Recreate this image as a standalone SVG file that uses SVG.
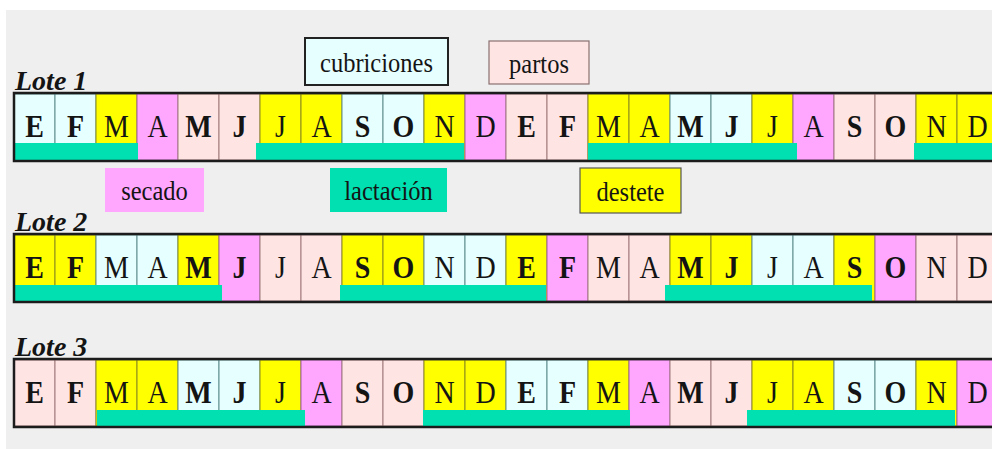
<svg xmlns="http://www.w3.org/2000/svg" width="992" height="449" viewBox="0 0 992 449">
  <style>
    .bg { fill: #efefef; }
    .c { fill: #e6ffff; stroke: #5e8c8c; stroke-width: 1; }
    .y { fill: #ffff00; stroke: #8c8c1e; stroke-width: 1; }
    .m { fill: #ffa6ff; stroke: #a060a0; stroke-width: 1; }
    .p { fill: #ffe4e4; stroke: #a07a7a; stroke-width: 1; }
    .g { fill: #00e0b0; }
    .frame { fill: none; stroke: #1c1c1c; stroke-width: 2.5; }
    text { font-family: "Liberation Serif", "Times New Roman", serif; fill: #141414; text-anchor: middle; }
    .cell text { font-size: 28px; }
    .b { font-weight: bold; }
    .lote { font-size: 27px; font-weight: bold; font-style: italic; text-anchor: start; }
    .leg { font-size: 24.5px; }
  </style>

  <rect x="0" y="0" width="992" height="449" fill="#ffffff"/>
  <rect class="bg" x="6" y="10" width="986" height="439"/>

  <!-- Legend -->
  <g id="leg-cubriciones">
    <rect x="305" y="38" width="143" height="47" fill="#e6ffff" stroke="#222" stroke-width="2"/>
    <text class="leg" transform="translate(376.5 72) scale(1 1.15)">cubriciones</text>
  </g>
  <g id="leg-partos">
    <rect x="489" y="41" width="100" height="43" fill="#ffe4e4" stroke="#8a7070" stroke-width="1.2"/>
    <text class="leg" transform="translate(539 73) scale(1 1.15)">partos</text>
  </g>
  <g id="leg-secado">
    <rect x="105" y="168" width="99" height="44" fill="#ffa6ff"/>
    <text class="leg" transform="translate(154.5 200) scale(1 1.15)">secado</text>
  </g>
  <g id="leg-lactacion">
    <rect x="330" y="168" width="117" height="44" fill="#00e0b0"/>
    <text class="leg" transform="translate(388.5 200) scale(1 1.15)">lactación</text>
  </g>
  <g id="leg-destete">
    <rect x="580" y="168" width="101" height="45" fill="#ffff00" stroke="#555" stroke-width="1.2"/>
    <text class="leg" transform="translate(630.5 201) scale(1 1.15)">destete</text>
  </g>

  <!-- Lote 1 -->
  <g id="lote1" class="cell">
    <text class="lote" x="15" y="90">Lote 1</text>
    <rect class="c" x="14" y="94" width="41" height="66"/>
    <rect class="c" x="55" y="94" width="41" height="66"/>
    <rect class="y" x="96" y="94" width="41" height="66"/>
    <rect class="m" x="137" y="94" width="41" height="66"/>
    <rect class="p" x="178" y="94" width="41" height="66"/>
    <rect class="p" x="219" y="94" width="41" height="66"/>
    <rect class="y" x="260" y="94" width="41" height="66"/>
    <rect class="y" x="301" y="94" width="41" height="66"/>
    <rect class="c" x="342" y="94" width="41" height="66"/>
    <rect class="c" x="383" y="94" width="41" height="66"/>
    <rect class="y" x="424" y="94" width="41" height="66"/>
    <rect class="m" x="465" y="94" width="41" height="66"/>
    <rect class="p" x="506" y="94" width="41" height="66"/>
    <rect class="p" x="547" y="94" width="41" height="66"/>
    <rect class="y" x="588" y="94" width="41" height="66"/>
    <rect class="y" x="629" y="94" width="41" height="66"/>
    <rect class="c" x="670" y="94" width="41" height="66"/>
    <rect class="c" x="711" y="94" width="41" height="66"/>
    <rect class="y" x="752" y="94" width="41" height="66"/>
    <rect class="m" x="793" y="94" width="41" height="66"/>
    <rect class="p" x="834" y="94" width="41" height="66"/>
    <rect class="p" x="875" y="94" width="41" height="66"/>
    <rect class="y" x="916" y="94" width="41" height="66"/>
    <rect class="y" x="957" y="94" width="41" height="66"/>
    <rect class="g" x="14" y="143" width="124" height="17"/>
    <rect class="g" x="256" y="143" width="208" height="17"/>
    <rect class="g" x="588" y="143" width="209" height="17"/>
    <rect class="g" x="914" y="143" width="86" height="17"/>
    <rect class="frame" x="14" y="93" width="990" height="68"/>
    <text class="b" transform="translate(34.5 137) scale(1 1.16)">E</text>
    <text class="b" transform="translate(75.5 137) scale(1 1.16)">F</text>
    <text transform="translate(116.5 137) scale(1 1.16)">M</text>
    <text transform="translate(157.5 137) scale(1 1.16)">A</text>
    <text class="b" transform="translate(198.5 137) scale(1 1.16)">M</text>
    <text class="b" transform="translate(239.5 137) scale(1 1.16)">J</text>
    <text transform="translate(280.5 137) scale(1 1.16)">J</text>
    <text transform="translate(321.5 137) scale(1 1.16)">A</text>
    <text class="b" transform="translate(362.5 137) scale(1 1.16)">S</text>
    <text class="b" transform="translate(403.5 137) scale(1 1.16)">O</text>
    <text transform="translate(444.5 137) scale(1 1.16)">N</text>
    <text transform="translate(485.5 137) scale(1 1.16)">D</text>
    <text class="b" transform="translate(526.5 137) scale(1 1.16)">E</text>
    <text class="b" transform="translate(567.5 137) scale(1 1.16)">F</text>
    <text transform="translate(608.5 137) scale(1 1.16)">M</text>
    <text transform="translate(649.5 137) scale(1 1.16)">A</text>
    <text class="b" transform="translate(690.5 137) scale(1 1.16)">M</text>
    <text class="b" transform="translate(731.5 137) scale(1 1.16)">J</text>
    <text transform="translate(772.5 137) scale(1 1.16)">J</text>
    <text transform="translate(813.5 137) scale(1 1.16)">A</text>
    <text class="b" transform="translate(854.5 137) scale(1 1.16)">S</text>
    <text class="b" transform="translate(895.5 137) scale(1 1.16)">O</text>
    <text transform="translate(936.5 137) scale(1 1.16)">N</text>
    <text transform="translate(977.5 137) scale(1 1.16)">D</text>
  </g>

  <!-- Lote 2 -->
  <g id="lote2" class="cell">
    <text class="lote" x="15" y="231">Lote 2</text>
    <rect class="y" x="14" y="235" width="41" height="66"/>
    <rect class="y" x="55" y="235" width="41" height="66"/>
    <rect class="c" x="96" y="235" width="41" height="66"/>
    <rect class="c" x="137" y="235" width="41" height="66"/>
    <rect class="y" x="178" y="235" width="41" height="66"/>
    <rect class="m" x="219" y="235" width="41" height="66"/>
    <rect class="p" x="260" y="235" width="41" height="66"/>
    <rect class="p" x="301" y="235" width="41" height="66"/>
    <rect class="y" x="342" y="235" width="41" height="66"/>
    <rect class="y" x="383" y="235" width="41" height="66"/>
    <rect class="c" x="424" y="235" width="41" height="66"/>
    <rect class="c" x="465" y="235" width="41" height="66"/>
    <rect class="y" x="506" y="235" width="41" height="66"/>
    <rect class="m" x="547" y="235" width="41" height="66"/>
    <rect class="p" x="588" y="235" width="41" height="66"/>
    <rect class="p" x="629" y="235" width="41" height="66"/>
    <rect class="y" x="670" y="235" width="41" height="66"/>
    <rect class="y" x="711" y="235" width="41" height="66"/>
    <rect class="c" x="752" y="235" width="41" height="66"/>
    <rect class="c" x="793" y="235" width="41" height="66"/>
    <rect class="y" x="834" y="235" width="41" height="66"/>
    <rect class="m" x="875" y="235" width="41" height="66"/>
    <rect class="p" x="916" y="235" width="41" height="66"/>
    <rect class="p" x="957" y="235" width="41" height="66"/>
    <rect class="g" x="14" y="285" width="208" height="16"/>
    <rect class="g" x="340" y="285" width="206" height="16"/>
    <rect class="g" x="665" y="285" width="207" height="16"/>
    <rect class="frame" x="14" y="234" width="990" height="68"/>
    <text class="b" transform="translate(34.5 278) scale(1 1.16)">E</text>
    <text class="b" transform="translate(75.5 278) scale(1 1.16)">F</text>
    <text transform="translate(116.5 278) scale(1 1.16)">M</text>
    <text transform="translate(157.5 278) scale(1 1.16)">A</text>
    <text class="b" transform="translate(198.5 278) scale(1 1.16)">M</text>
    <text class="b" transform="translate(239.5 278) scale(1 1.16)">J</text>
    <text transform="translate(280.5 278) scale(1 1.16)">J</text>
    <text transform="translate(321.5 278) scale(1 1.16)">A</text>
    <text class="b" transform="translate(362.5 278) scale(1 1.16)">S</text>
    <text class="b" transform="translate(403.5 278) scale(1 1.16)">O</text>
    <text transform="translate(444.5 278) scale(1 1.16)">N</text>
    <text transform="translate(485.5 278) scale(1 1.16)">D</text>
    <text class="b" transform="translate(526.5 278) scale(1 1.16)">E</text>
    <text class="b" transform="translate(567.5 278) scale(1 1.16)">F</text>
    <text transform="translate(608.5 278) scale(1 1.16)">M</text>
    <text transform="translate(649.5 278) scale(1 1.16)">A</text>
    <text class="b" transform="translate(690.5 278) scale(1 1.16)">M</text>
    <text class="b" transform="translate(731.5 278) scale(1 1.16)">J</text>
    <text transform="translate(772.5 278) scale(1 1.16)">J</text>
    <text transform="translate(813.5 278) scale(1 1.16)">A</text>
    <text class="b" transform="translate(854.5 278) scale(1 1.16)">S</text>
    <text class="b" transform="translate(895.5 278) scale(1 1.16)">O</text>
    <text transform="translate(936.5 278) scale(1 1.16)">N</text>
    <text transform="translate(977.5 278) scale(1 1.16)">D</text>
  </g>

  <!-- Lote 3 -->
  <g id="lote3" class="cell">
    <text class="lote" x="15" y="356">Lote 3</text>
    <rect class="p" x="14" y="360" width="41" height="66"/>
    <rect class="p" x="55" y="360" width="41" height="66"/>
    <rect class="y" x="96" y="360" width="41" height="66"/>
    <rect class="y" x="137" y="360" width="41" height="66"/>
    <rect class="c" x="178" y="360" width="41" height="66"/>
    <rect class="c" x="219" y="360" width="41" height="66"/>
    <rect class="y" x="260" y="360" width="41" height="66"/>
    <rect class="m" x="301" y="360" width="41" height="66"/>
    <rect class="p" x="342" y="360" width="41" height="66"/>
    <rect class="p" x="383" y="360" width="41" height="66"/>
    <rect class="y" x="424" y="360" width="41" height="66"/>
    <rect class="y" x="465" y="360" width="41" height="66"/>
    <rect class="c" x="506" y="360" width="41" height="66"/>
    <rect class="c" x="547" y="360" width="41" height="66"/>
    <rect class="y" x="588" y="360" width="41" height="66"/>
    <rect class="m" x="629" y="360" width="41" height="66"/>
    <rect class="p" x="670" y="360" width="41" height="66"/>
    <rect class="p" x="711" y="360" width="41" height="66"/>
    <rect class="y" x="752" y="360" width="41" height="66"/>
    <rect class="y" x="793" y="360" width="41" height="66"/>
    <rect class="c" x="834" y="360" width="41" height="66"/>
    <rect class="c" x="875" y="360" width="41" height="66"/>
    <rect class="y" x="916" y="360" width="41" height="66"/>
    <rect class="m" x="957" y="360" width="41" height="66"/>
    <rect class="g" x="97" y="410" width="208" height="16"/>
    <rect class="g" x="423" y="410" width="207" height="16"/>
    <rect class="g" x="747" y="410" width="208" height="16"/>
    <rect class="frame" x="14" y="359" width="990" height="68"/>
    <text class="b" transform="translate(34.5 403) scale(1 1.16)">E</text>
    <text class="b" transform="translate(75.5 403) scale(1 1.16)">F</text>
    <text transform="translate(116.5 403) scale(1 1.16)">M</text>
    <text transform="translate(157.5 403) scale(1 1.16)">A</text>
    <text class="b" transform="translate(198.5 403) scale(1 1.16)">M</text>
    <text class="b" transform="translate(239.5 403) scale(1 1.16)">J</text>
    <text transform="translate(280.5 403) scale(1 1.16)">J</text>
    <text transform="translate(321.5 403) scale(1 1.16)">A</text>
    <text class="b" transform="translate(362.5 403) scale(1 1.16)">S</text>
    <text class="b" transform="translate(403.5 403) scale(1 1.16)">O</text>
    <text transform="translate(444.5 403) scale(1 1.16)">N</text>
    <text transform="translate(485.5 403) scale(1 1.16)">D</text>
    <text class="b" transform="translate(526.5 403) scale(1 1.16)">E</text>
    <text class="b" transform="translate(567.5 403) scale(1 1.16)">F</text>
    <text transform="translate(608.5 403) scale(1 1.16)">M</text>
    <text transform="translate(649.5 403) scale(1 1.16)">A</text>
    <text class="b" transform="translate(690.5 403) scale(1 1.16)">M</text>
    <text class="b" transform="translate(731.5 403) scale(1 1.16)">J</text>
    <text transform="translate(772.5 403) scale(1 1.16)">J</text>
    <text transform="translate(813.5 403) scale(1 1.16)">A</text>
    <text class="b" transform="translate(854.5 403) scale(1 1.16)">S</text>
    <text class="b" transform="translate(895.5 403) scale(1 1.16)">O</text>
    <text transform="translate(936.5 403) scale(1 1.16)">N</text>
    <text transform="translate(977.5 403) scale(1 1.16)">D</text>
  </g>

  <!-- no connectors in this chart -->
  <g id="connectors"/>
</svg>
